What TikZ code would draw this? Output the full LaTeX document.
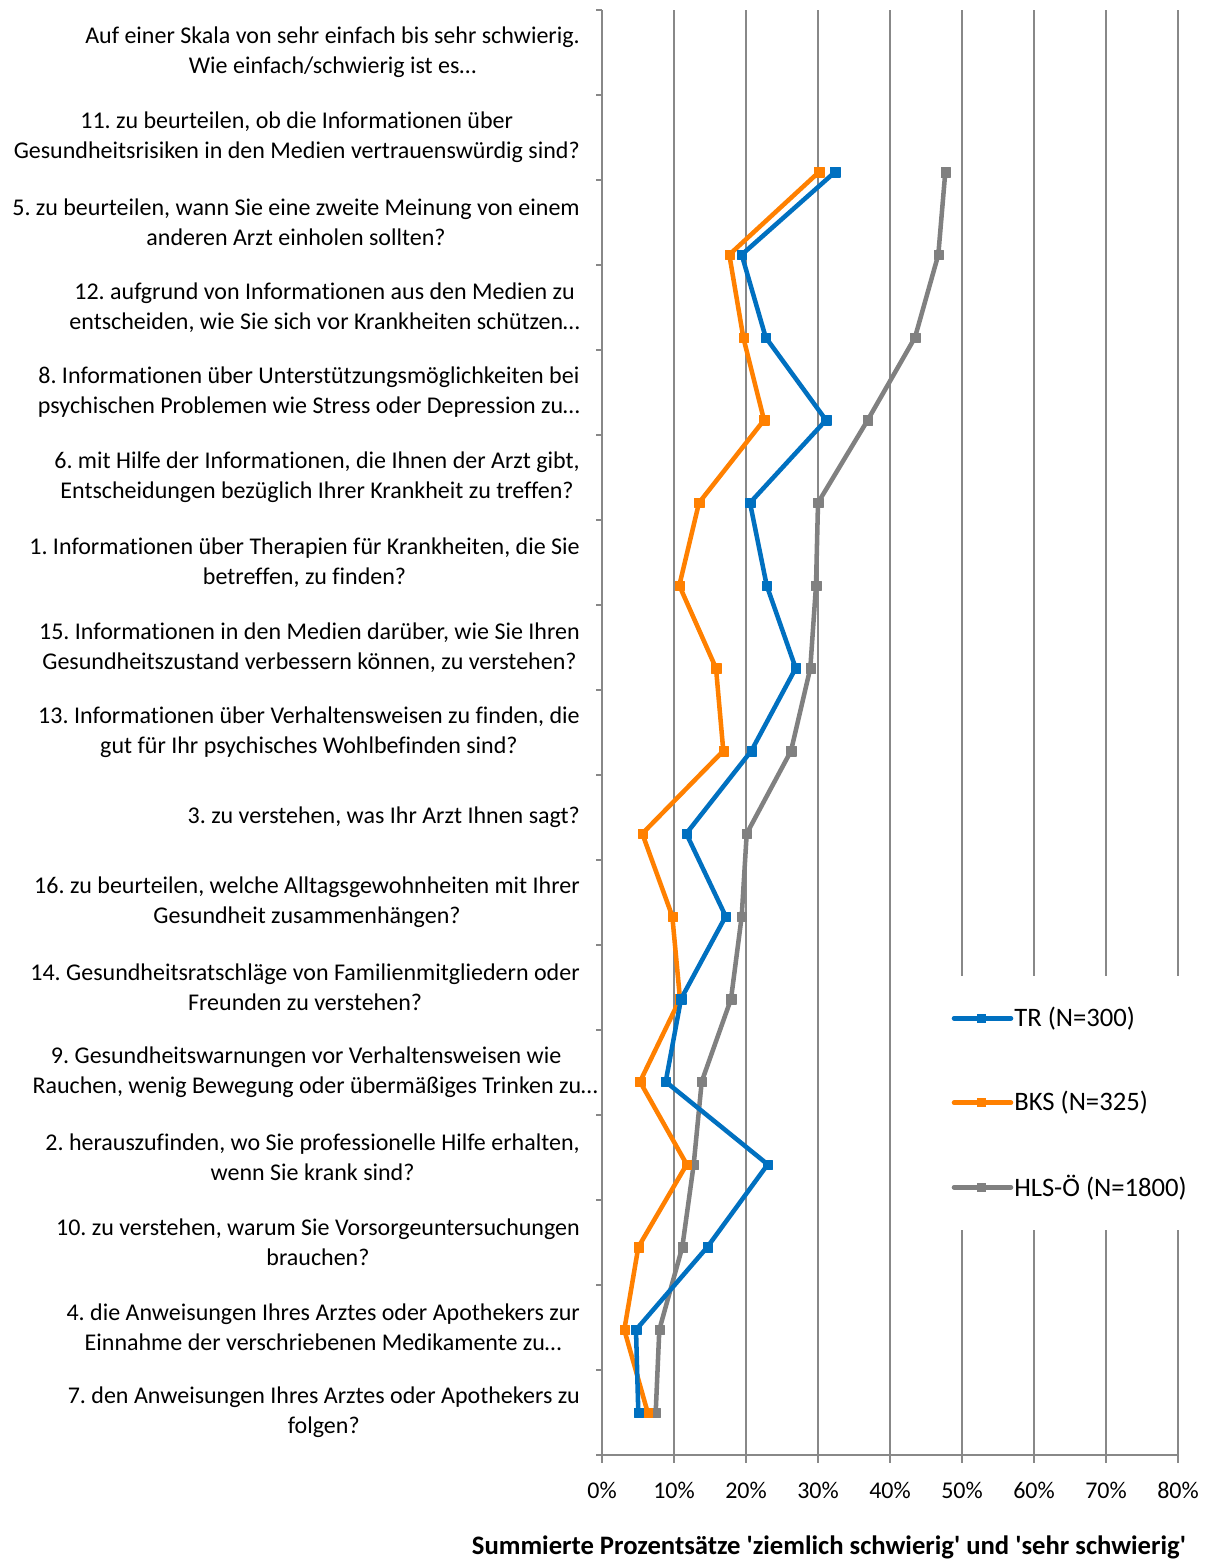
\documentclass[tikz,border=0pt]{standalone}
\usepackage{fontspec}
\setmainfont{Carlito}[Ligatures={TeXOff,NoCommon}]
\usetikzlibrary{plotmarks}
\frenchspacing
\definecolor{trblue}{HTML}{0070C0}
\definecolor{bksorange}{HTML}{FF8000}
\definecolor{hlsgray}{HTML}{808080}
\definecolor{gridgray}{HTML}{888888}
\tikzset{
  gridline/.style={draw=gridgray, line width=1.05pt},
  axisline/.style={draw=gridgray, line width=1.05pt},
  catlabel/.style={anchor=east, align=center, inner sep=0pt, font=\fontsize{18}{22.5}\selectfont\frenchspacing},
  ticklabel/.style={anchor=center, inner sep=0pt, font=\fontsize{18}{22.5}\selectfont},
  legtext/.style={anchor=west, inner sep=0pt, font=\fontsize{20}{24}\selectfont},
  series/.style={draw=#1, line width=3.4pt, line join=round,
    mark=square*, mark size=3.5pt, mark options={fill=#1, draw=#1, line width=0.1pt}},
  legmark/.style={fill=#1, minimum size=7pt, inner sep=0pt, draw=none},
}
\begin{document}
\begin{tikzpicture}[x=0.75pt, y=-0.75pt]
\useasboundingbox (0,0) rectangle (1209,1560);
\fill[white] (0,0) rectangle (1209,1560);
% gridlines
\foreach \k in {1,...,8} {
  \draw[gridline] ({602+72*\k},10) -- ({602+72*\k},1455);
}
% axes
\draw[axisline] (602,10) -- (602,1455);
\draw[axisline] (602,1455) -- (1178,1455);
\foreach \k in {0,...,17} {
  \draw[axisline] (596,{10+85*\k}) -- (602,{10+85*\k});
}
\foreach \k in {0,...,8} {
  \draw[axisline] ({602+72*\k},1455) -- ({602+72*\k},1463);
}
% category labels
\node[catlabel] (c0) at (580,52.5) {Auf einer Skala von sehr einfach bis sehr schwierig.\\Wie einfach/schwierig ist es…};
\node[catlabel] (c1) at (580,137.5) {11. zu beurteilen, ob die Informationen über\\Gesundheitsrisiken in den Medien vertrauenswürdig sind?};
\node[catlabel] (c2) at (580,222.5) {5. zu beurteilen, wann Sie eine zweite Meinung von einem\\anderen Arzt einholen sollten?};
\node[catlabel] (c3) at (580,307.5) {12. aufgrund von Informationen aus den Medien zu\\entscheiden, wie Sie sich vor Krankheiten schützen…};
\node[catlabel] (c4) at (580,392.5) {8. Informationen über Unterstützungsmöglichkeiten bei\\psychischen Problemen wie Stress oder Depression zu…};
\node[catlabel] (c5) at (580,477.5) {6. mit Hilfe der Informationen, die Ihnen der Arzt gibt,\\Entscheidungen bezüglich Ihrer Krankheit zu treffen?};
\node[catlabel] (c6) at (580,562.5) {1. Informationen über Therapien für Krankheiten, die Sie\\betreffen, zu finden?};
\node[catlabel] (c7) at (580,647.5) {15. Informationen in den Medien darüber, wie Sie Ihren\\Gesundheitszustand verbessern können, zu verstehen?};
\node[catlabel] (c8) at (580,732.5) {13. Informationen über Verhaltensweisen zu finden, die\\gut für Ihr psychisches Wohlbefinden sind?};
\node[catlabel] (c9) at (580,817.5) {3. zu verstehen, was Ihr Arzt Ihnen sagt?};
\node[catlabel] (c10) at (580,902.5) {16. zu beurteilen, welche Alltagsgewohnheiten mit Ihrer\\Gesundheit zusammenhängen?};
\node[catlabel] (c11) at (580,987.5) {14. Gesundheitsratschläge von Familienmitgliedern oder\\Freunden zu verstehen?};
\node[catlabel] (c12) at (598,1072.5) {9. Gesundheitswarnungen vor Verhaltensweisen wie\hspace*{13.5pt}\\Rauchen, wenig Bewegung oder übermäßiges Trinken zu…};
\node[catlabel] (c13) at (580,1157.5) {2. herauszufinden, wo Sie professionelle Hilfe erhalten,\\wenn Sie krank sind?};
\node[catlabel] (c14) at (580,1242.5) {10. zu verstehen, warum Sie Vorsorgeuntersuchungen\\brauchen?};
\node[catlabel] (c15) at (580,1327.5) {4. die Anweisungen Ihres Arztes oder Apothekers zur\\Einnahme der verschriebenen Medikamente zu…};
\node[catlabel] (c16) at (580,1412.5) {7. den Anweisungen Ihres Arztes oder Apothekers zu\\folgen?};
% x tick labels
\foreach \k in {0,...,8} {
  \node[ticklabel] (t\k) at ({602+72*\k},1490) {\pgfmathparse{int(10*\k)}\pgfmathresult\%};
}
% axis title
\node[ticklabel, font=\fontsize{20}{24}\selectfont\bfseries] (title) at (829,1547) {Summierte Prozentsätze 'ziemlich schwierig' und 'sehr schwierig'};
% series
\draw[series=hlsgray] plot coordinates {(945.3,172) (938.3,254.7) (915,337.4) (867.7,420.1) (818,502.8) (816,585.5) (810.3,668.2) (791,750.9) (746.7,833.6) (741.7,916.3) (731,999) (701.7,1081.7) (693.7,1164.4) (682.3,1247.1) (659.3,1329.8) (655.7,1412.5)};
\draw[series=bksorange] plot coordinates {(819,172) (729.3,254.7) (743.3,337.4) (764,420.1) (699,502.8) (679.3,585.5) (716,668.2) (723.3,750.9) (642.3,833.6) (672.3,916.3) (680,999) (640,1081.7) (686.7,1164.4) (638.3,1247.1) (624.3,1329.8) (647.7,1412.5)};
\draw[series=trblue] plot coordinates {(835,172) (741.7,254.7) (765.7,337.4) (826,420.1) (750,502.8) (766.7,585.5) (795.7,668.2) (751.3,750.9) (686.3,833.6) (725.7,916.3) (681,999) (665.7,1081.7) (767.7,1164.4) (707.3,1247.1) (636,1329.8) (638.3,1412.5)};
% legend
\fill[white] (946,976) rectangle (1209,1230);
\draw[draw=trblue, line width=3.4pt, line cap=round] (954,1018.3) -- (1011,1018.3);
\node[legmark=trblue] (m1) at (981.7,1018.3) {};
\node[legtext] (l1) at (1014,1018.3) {TR (N=300)};
\draw[draw=bksorange, line width=3.4pt, line cap=round] (954,1102.7) -- (1011,1102.7);
\node[legmark=bksorange] (m2) at (981.7,1102.7) {};
\node[legtext] (l2) at (1014,1102.7) {BKS (N=325)};
\draw[draw=hlsgray, line width=3.4pt, line cap=round] (954,1187.3) -- (1011,1187.3);
\node[legmark=hlsgray] (m3) at (981.7,1187.3) {};
\node[legtext] (l3) at (1014,1187.3) {HLS-Ö (N=1800)};
\end{tikzpicture}
\end{document}
